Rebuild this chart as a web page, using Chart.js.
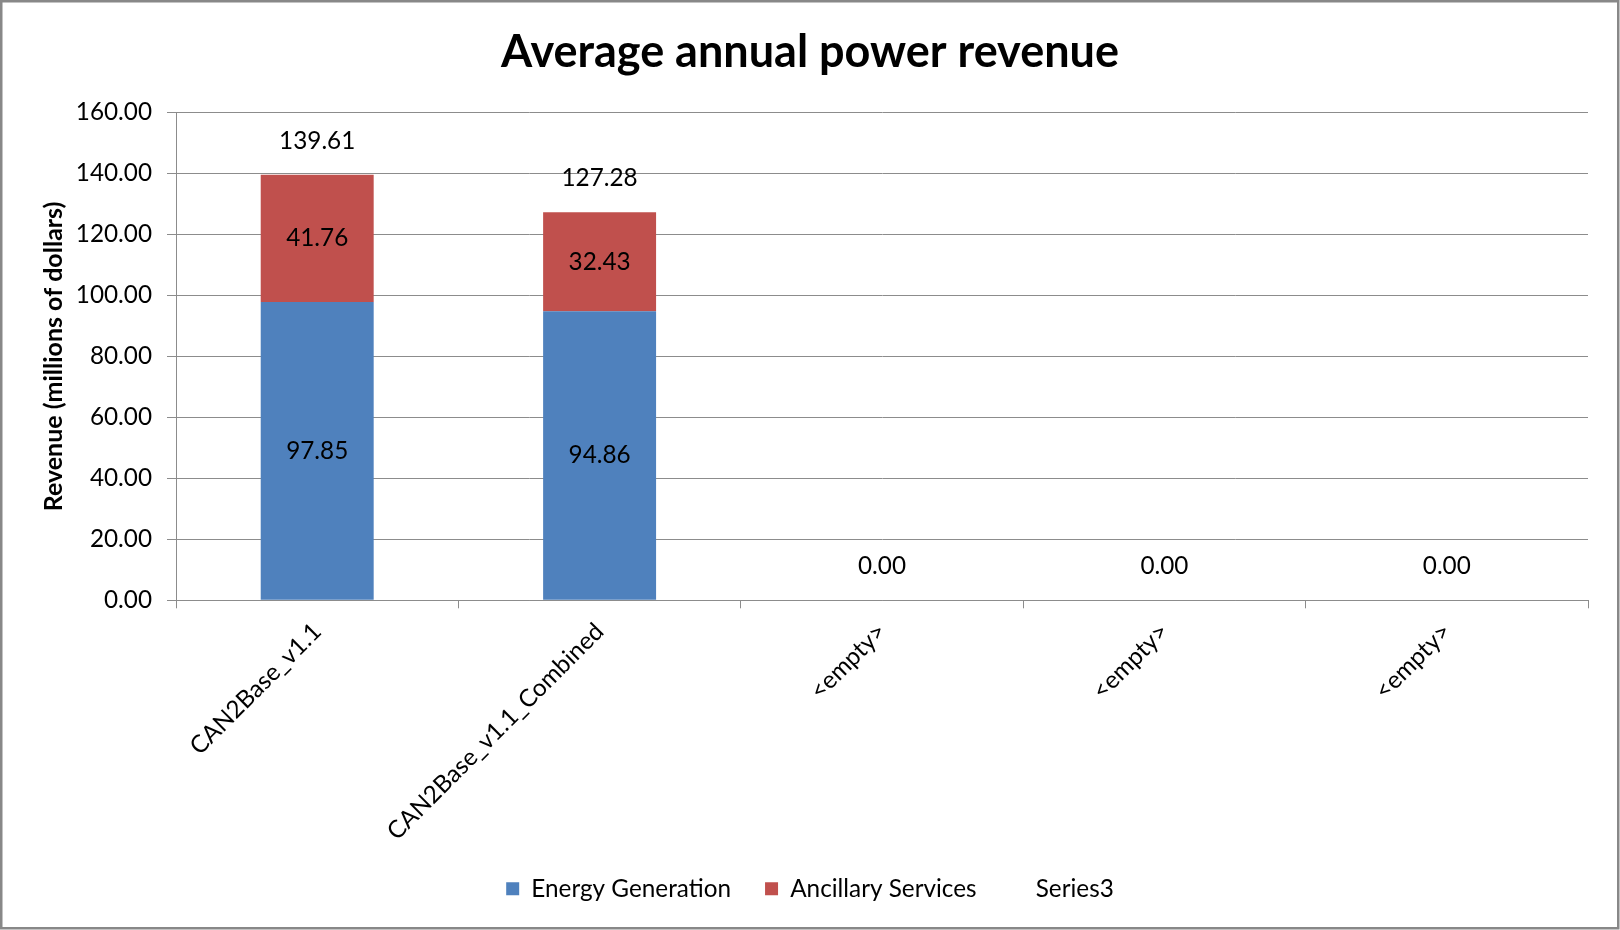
<!DOCTYPE html>
<html>
<head>
<meta charset="utf-8">
<title>Average annual power revenue</title>
<script src="https://cdn.jsdelivr.net/npm/chart.js"></script>
<style>
    html, body { margin: 0; padding: 0; background: #ffffff; }
    #chart { display: block; }
</style>
</head>
<body>
<canvas id="chart" width="1620" height="930"></canvas>
<script>
// values
const categories = ['CAN2Base_v1.1', 'CAN2Base_v1.1_Combined', '<empty>', '<empty>', '<empty>'];
const energyGeneration = [97.85, 94.86, null, null, null];
const ancillaryServices = [41.76, 32.43, null, null, null];
const series3 = [0, 0, 0, 0, 0];
const totalLabels = [139.61, 127.28, 0.00, 0.00, 0.00];
const yTicks = [0, 20, 40, 60, 80, 100, 120, 140, 160];

const FONT = 'Lato, "Liberation Sans", sans-serif';
const TEXT_SIZE = 24.3;
const gridColor = '#8c8c8c';

// draws the numbers on the bars, like the excel data labels
const barLabels = {
    id: 'barLabels',
    afterDatasetsDraw(chart) {
        const ctx = chart.ctx;
        ctx.save();
        ctx.font = TEXT_SIZE + 'px ' + FONT;
        ctx.fillStyle = '#000';
        ctx.textAlign = 'center';
        ctx.textBaseline = 'middle';
        chart.data.datasets.forEach((ds, i) => {
            const meta = chart.getDatasetMeta(i);
            meta.data.forEach((bar, j) => {
                const v = ds.data[j];
                if (v === null || v === undefined) return;
                if (i === 2) {
                    // Series3 is zero high, its label carries the total
                    ctx.fillText(totalLabels[j].toFixed(2), bar.x, bar.y - 34);
                } else {
                    ctx.fillText(v.toFixed(2), bar.x, (bar.y + bar.base) / 2);
                }
            });
        });
        ctx.restore();
    }
};

// gray frame round the whole chart
const frame = {
    id: 'frame',
    afterDraw(chart) {
        const ctx = chart.ctx;
        ctx.save();
        ctx.strokeStyle = '#888888';
        ctx.lineWidth = 2.5;
        ctx.strokeRect(1.25, 1.25, chart.width - 3, chart.height - 3);
        ctx.restore();
    }
};

const ctx = document.getElementById('chart').getContext('2d');
const myChart = new Chart(ctx, {
    type: 'bar',
    data: {
        labels: categories,
        datasets: [{
            label: 'Energy Generation',
            data: energyGeneration,
            backgroundColor: '#4F81BD',
            borderWidth: 0
        }, {
            label: 'Ancillary Services',
            data: ancillaryServices,
            backgroundColor: '#C0504D',
            borderWidth: 0
        }, {
            label: 'Series3',
            data: series3,
            backgroundColor: 'rgba(0,0,0,0)',
            borderColor: 'rgba(0,0,0,0)',
            borderWidth: 0
        }]
    },
    options: {
        responsive: false,
        animation: false,
        devicePixelRatio: 1,
        layout: {
            padding: {left: 32, right: 32, top: 0, bottom: 19}
        },
        datasets: {
            bar: {
                barPercentage: 0.4,
                categoryPercentage: 1.0
            }
        },
        scales: {
            x: {
                stacked: true,
                afterFit: (scale) => { scale.height = 242.4; },
                grid: {
                    offset: true,
                    drawOnChartArea: false,
                    drawTicks: true,
                    tickLength: 8,
                    color: gridColor
                },
                border: { color: gridColor, width: 1 },
                ticks: {
                    autoSkip: false,
                    minRotation: 45,
                    maxRotation: 45,
                    padding: 9,
                    color: '#000',
                    font: { family: FONT, size: TEXT_SIZE }
                }
            },
            y: {
                stacked: true,
                min: 0,
                max: 160,
                afterFit: (scale) => { scale.width = 144; },
                afterBuildTicks: (scale) => {
                    scale.ticks = yTicks.map(v => ({value: v}));
                },
                grid: {
                    color: gridColor,
                    tickLength: 9,
                    drawTicks: true
                },
                border: { color: gridColor, width: 1 },
                ticks: {
                    padding: 15,
                    color: '#000',
                    font: { family: FONT, size: TEXT_SIZE },
                    callback: (value) => Number(value).toFixed(2)
                },
                title: {
                    display: true,
                    text: 'Revenue (millions of dollars)',
                    color: '#000',
                    font: { family: FONT, size: 25, weight: 'bold', lineHeight: 1.2 },
                    padding: { top: 7, bottom: 0 }
                }
            }
        },
        plugins: {
            title: {
                display: true,
                text: 'Average annual power revenue',
                color: '#000',
                font: { family: FONT, size: 45, weight: 'bold', lineHeight: 1.2 },
                padding: { top: 25, bottom: 33.6 }
            },
            legend: {
                position: 'bottom',
                labels: {
                    boxWidth: 13,
                    boxHeight: 13,
                    padding: 34,
                    color: '#000',
                    font: { family: FONT, size: TEXT_SIZE }
                }
            },
            tooltip: { enabled: false }
        }
    },
    plugins: [barLabels, frame]
});
</script>
</body>
</html>
